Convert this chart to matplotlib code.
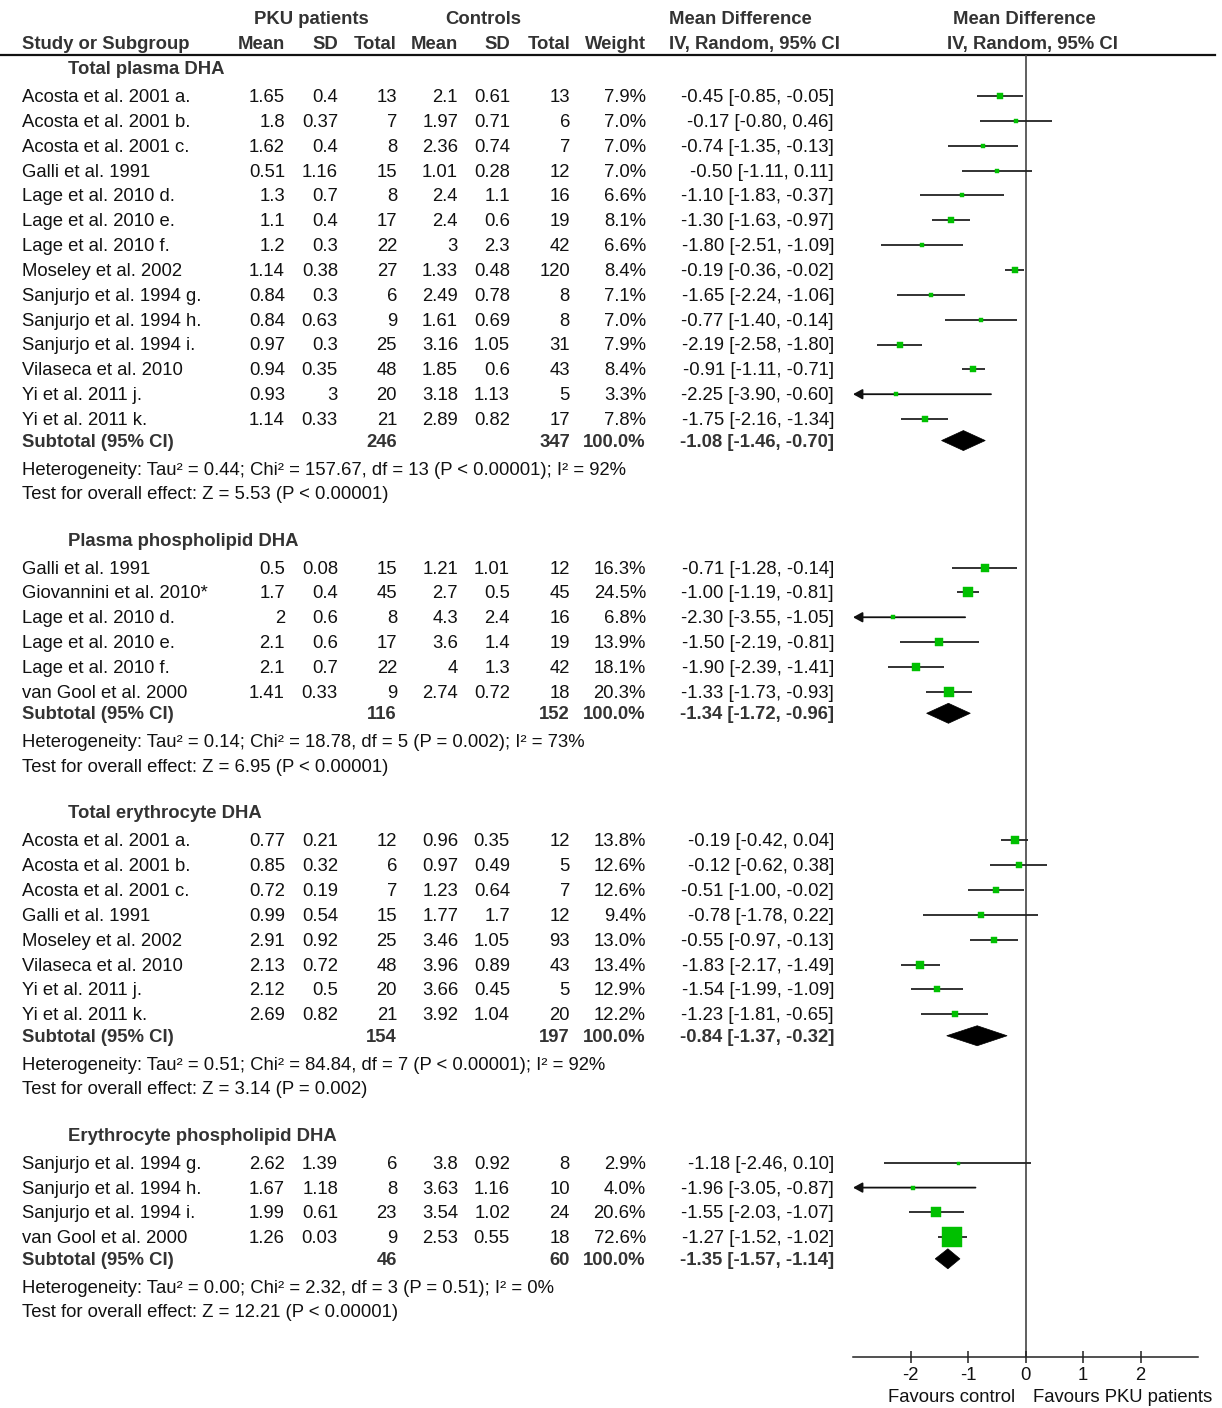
import matplotlib
matplotlib.use("Agg")
import matplotlib.pyplot as plt
from matplotlib.patches import Polygon

plt.rcParams['font.family'] = ['Liberation Sans', 'DejaVu Sans']
plt.rcParams['axes.unicode_minus'] = False

# ---------------- data ----------------
group_titles = ["Total plasma DHA", "Plasma phospholipid DHA",
                "Total erythrocyte DHA", "Erythrocyte phospholipid DHA"]

studies1 = ["Acosta et al. 2001 a.", "Acosta et al. 2001 b.", "Acosta et al. 2001 c.", "Galli et al. 1991",
            "Lage et al. 2010 d.", "Lage et al. 2010 e.", "Lage et al. 2010 f.", "Moseley et al. 2002",
            "Sanjurjo et al. 1994 g.", "Sanjurjo et al. 1994 h.", "Sanjurjo et al. 1994 i.",
            "Vilaseca et al. 2010", "Yi et al. 2011 j.", "Yi et al. 2011 k."]
pku_mean1 = [1.65, 1.8, 1.62, 0.51, 1.3, 1.1, 1.2, 1.14, 0.84, 0.84, 0.97, 0.94, 0.93, 1.14]
pku_sd1 = [0.4, 0.37, 0.4, 1.16, 0.7, 0.4, 0.3, 0.38, 0.3, 0.63, 0.3, 0.35, 3, 0.33]
pku_n1 = [13, 7, 8, 15, 8, 17, 22, 27, 6, 9, 25, 48, 20, 21]
ctl_mean1 = [2.1, 1.97, 2.36, 1.01, 2.4, 2.4, 3, 1.33, 2.49, 1.61, 3.16, 1.85, 3.18, 2.89]
ctl_sd1 = [0.61, 0.71, 0.74, 0.28, 1.1, 0.6, 2.3, 0.48, 0.78, 0.69, 1.05, 0.6, 1.13, 0.82]
ctl_n1 = [13, 6, 7, 12, 16, 19, 42, 120, 8, 8, 31, 43, 5, 17]
weight1 = [7.9, 7.0, 7.0, 7.0, 6.6, 8.1, 6.6, 8.4, 7.1, 7.0, 7.9, 8.4, 3.3, 7.8]
md1 = [-0.45, -0.17, -0.74, -0.50, -1.10, -1.30, -1.80, -0.19, -1.65, -0.77, -2.19, -0.91, -2.25, -1.75]
lo1 = [-0.85, -0.80, -1.35, -1.11, -1.83, -1.63, -2.51, -0.36, -2.24, -1.40, -2.58, -1.11, -3.90, -2.16]
hi1 = [-0.05, 0.46, -0.13, 0.11, -0.37, -0.97, -1.09, -0.02, -1.06, -0.14, -1.80, -0.71, -0.60, -1.34]
sub1 = dict(n_pku=246, n_ctl=347, md=-1.08, lo=-1.46, hi=-0.70)
het1 = "Heterogeneity: Tau² = 0.44; Chi² = 157.67, df = 13 (P < 0.00001); I² = 92%"
test1 = "Test for overall effect: Z = 5.53 (P < 0.00001)"

studies2 = ["Galli et al. 1991", "Giovannini et al. 2010*", "Lage et al. 2010 d.", "Lage et al. 2010 e.",
            "Lage et al. 2010 f.", "van Gool et al. 2000"]
pku_mean2 = [0.5, 1.7, 2, 2.1, 2.1, 1.41]
pku_sd2 = [0.08, 0.4, 0.6, 0.6, 0.7, 0.33]
pku_n2 = [15, 45, 8, 17, 22, 9]
ctl_mean2 = [1.21, 2.7, 4.3, 3.6, 4, 2.74]
ctl_sd2 = [1.01, 0.5, 2.4, 1.4, 1.3, 0.72]
ctl_n2 = [12, 45, 16, 19, 42, 18]
weight2 = [16.3, 24.5, 6.8, 13.9, 18.1, 20.3]
md2 = [-0.71, -1.00, -2.30, -1.50, -1.90, -1.33]
lo2 = [-1.28, -1.19, -3.55, -2.19, -2.39, -1.73]
hi2 = [-0.14, -0.81, -1.05, -0.81, -1.41, -0.93]
sub2 = dict(n_pku=116, n_ctl=152, md=-1.34, lo=-1.72, hi=-0.96)
het2 = "Heterogeneity: Tau² = 0.14; Chi² = 18.78, df = 5 (P = 0.002); I² = 73%"
test2 = "Test for overall effect: Z = 6.95 (P < 0.00001)"

studies3 = ["Acosta et al. 2001 a.", "Acosta et al. 2001 b.", "Acosta et al. 2001 c.", "Galli et al. 1991",
            "Moseley et al. 2002", "Vilaseca et al. 2010", "Yi et al. 2011 j.", "Yi et al. 2011 k."]
pku_mean3 = [0.77, 0.85, 0.72, 0.99, 2.91, 2.13, 2.12, 2.69]
pku_sd3 = [0.21, 0.32, 0.19, 0.54, 0.92, 0.72, 0.5, 0.82]
pku_n3 = [12, 6, 7, 15, 25, 48, 20, 21]
ctl_mean3 = [0.96, 0.97, 1.23, 1.77, 3.46, 3.96, 3.66, 3.92]
ctl_sd3 = [0.35, 0.49, 0.64, 1.7, 1.05, 0.89, 0.45, 1.04]
ctl_n3 = [12, 5, 7, 12, 93, 43, 5, 20]
weight3 = [13.8, 12.6, 12.6, 9.4, 13.0, 13.4, 12.9, 12.2]
md3 = [-0.19, -0.12, -0.51, -0.78, -0.55, -1.83, -1.54, -1.23]
lo3 = [-0.42, -0.62, -1.00, -1.78, -0.97, -2.17, -1.99, -1.81]
hi3 = [0.04, 0.38, -0.02, 0.22, -0.13, -1.49, -1.09, -0.65]
sub3 = dict(n_pku=154, n_ctl=197, md=-0.84, lo=-1.37, hi=-0.32)
het3 = "Heterogeneity: Tau² = 0.51; Chi² = 84.84, df = 7 (P < 0.00001); I² = 92%"
test3 = "Test for overall effect: Z = 3.14 (P = 0.002)"

studies4 = ["Sanjurjo et al. 1994 g.", "Sanjurjo et al. 1994 h.", "Sanjurjo et al. 1994 i.", "van Gool et al. 2000"]
pku_mean4 = [2.62, 1.67, 1.99, 1.26]
pku_sd4 = [1.39, 1.18, 0.61, 0.03]
pku_n4 = [6, 8, 23, 9]
ctl_mean4 = [3.8, 3.63, 3.54, 2.53]
ctl_sd4 = [0.92, 1.16, 1.02, 0.55]
ctl_n4 = [8, 10, 24, 18]
weight4 = [2.9, 4.0, 20.6, 72.6]
md4 = [-1.18, -1.96, -1.55, -1.27]
lo4 = [-2.46, -3.05, -2.03, -1.52]
hi4 = [0.10, -0.87, -1.07, -1.02]
sub4 = dict(n_pku=46, n_ctl=60, md=-1.35, lo=-1.57, hi=-1.14)
het4 = "Heterogeneity: Tau² = 0.00; Chi² = 2.32, df = 3 (P = 0.51); I² = 0%"
test4 = "Test for overall effect: Z = 12.21 (P < 0.00001)"

x_ticks = [-2, -1, 0, 1, 2]
x_limits = (-3, 3)
label_left = "Favours control"
label_right = "Favours PKU patients"

groups = [
    (group_titles[0], studies1, pku_mean1, pku_sd1, pku_n1, ctl_mean1, ctl_sd1, ctl_n1, weight1, md1, lo1, hi1, sub1, het1, test1),
    (group_titles[1], studies2, pku_mean2, pku_sd2, pku_n2, ctl_mean2, ctl_sd2, ctl_n2, weight2, md2, lo2, hi2, sub2, het2, test2),
    (group_titles[2], studies3, pku_mean3, pku_sd3, pku_n3, ctl_mean3, ctl_sd3, ctl_n3, weight3, md3, lo3, hi3, sub3, het3, test3),
    (group_titles[3], studies4, pku_mean4, pku_sd4, pku_n4, ctl_mean4, ctl_sd4, ctl_n4, weight4, md4, lo4, hi4, sub4, het4, test4),
]

# ---------------- layout ----------------
W, H = 1222, 1408
fig = plt.figure(figsize=(W / 100, H / 100), dpi=100)
ov = fig.add_axes([0, 0, 1, 1])
ov.set_xlim(0, W)
ov.set_ylim(H, 0)
ov.axis('off')

FS = 13.3
TXT = '#111111'
BOLD = '#333333'
GREEN = '#00C000'
TEXT_DY = 1.5

ax_left, ax_right = 853, 1198
ax_top, ax_bottom = 55, 1357
ax = fig.add_axes([ax_left / W, 1 - ax_bottom / H, (ax_right - ax_left) / W, (ax_bottom - ax_top) / H])
ax.set_xlim(*x_limits)
ax.set_ylim(ax_bottom, ax_top)
ax.patch.set_alpha(0)
for s in ['top', 'left', 'right']:
    ax.spines[s].set_visible(False)
ax.spines['bottom'].set_linewidth(1.1)
ax.spines['bottom'].set_color('#222222')
ax.set_yticks([])
ax.set_xticks(x_ticks)
ax.set_xticklabels([str(t) for t in x_ticks], fontsize=FS, color=TXT)
ax.tick_params(axis='x', direction='inout', length=8, width=1.1, color='#222222', pad=3)
ax.axvline(0, color='#444444', lw=1.2, zorder=1)

# column positions (right-aligned, px)
c_pm, c_psd, c_pn, c_cm, c_csd, c_cn, c_w, c_ci = 285, 338, 397, 458, 510, 570, 646, 834

def t(x, y, s, ha='left', bold=False, **kw):
    ov.text(x, y + TEXT_DY, s, ha=ha, va='center', fontsize=FS,
            fontweight='bold' if bold else 'normal', color=BOLD if bold else TXT, **kw)

# headers
t(311, 18, "PKU patients", ha='center', bold=True)
t(483, 18, "Controls", ha='center', bold=True)
t(669, 18, "Mean Difference", bold=True)
t(1024, 18, "Mean Difference", ha='center', bold=True)
t(22, 43, "Study or Subgroup", bold=True)
t(c_pm, 43, "Mean", ha='right', bold=True)
t(c_psd, 43, "SD", ha='right', bold=True)
t(c_pn, 43, "Total", ha='right', bold=True)
t(c_cm, 43, "Mean", ha='right', bold=True)
t(c_csd, 43, "SD", ha='right', bold=True)
t(c_cn, 43, "Total", ha='right', bold=True)
t(c_w, 43, "Weight", ha='right', bold=True)
t(669, 43, "IV, Random, 95% CI", bold=True)
t(1032, 43, "IV, Random, 95% CI", ha='center', bold=True)
ov.plot([0, 1215], [55, 55], color='#111111', lw=1.6)

def sq_size(w):
    return max(3.0, 1.5 * w ** 0.6) * 0.72  # px -> pt

y = 68
for (title, st, pm, psd, pn, cm, csd, cn, wt, md, lo, hi, sub, het, test) in groups:
    t(68, y, title, bold=True)
    y += 28
    for i in range(len(st)):
        t(22, y, st[i])
        t(c_pm, y, f"{pm[i]:g}", ha='right')
        t(c_psd, y, f"{psd[i]:g}", ha='right')
        t(c_pn, y, f"{pn[i]}", ha='right')
        t(c_cm, y, f"{cm[i]:g}", ha='right')
        t(c_csd, y, f"{csd[i]:g}", ha='right')
        t(c_cn, y, f"{cn[i]}", ha='right')
        t(c_w, y, f"{wt[i]:.1f}%", ha='right')
        t(c_ci, y, f"{md[i]:.2f} [{lo[i]:.2f}, {hi[i]:.2f}]", ha='right')
        # forest
        if lo[i] < x_limits[0]:
            ax.annotate('', xy=(x_limits[0], y), xytext=(hi[i], y),
                        arrowprops=dict(arrowstyle='-|>,head_length=0.55,head_width=0.3',
                                        color='#111111', lw=1.3, shrinkA=0, shrinkB=0),
                        annotation_clip=False)
        else:
            ax.plot([lo[i], hi[i]], [y, y], color='#222222', lw=1.3, solid_capstyle='butt', zorder=2)
        ax.plot([md[i]], [y], marker='s', ms=sq_size(wt[i]), mfc=GREEN, mec=GREEN, mew=0.3,
                linestyle='none', zorder=3)
        if i < len(st) - 1:
            y += 24.85
    y += 21.5
    t(22, y, "Subtotal (95% CI)", bold=True)
    t(c_pn, y, f"{sub['n_pku']}", ha='right', bold=True)
    t(c_cn, y, f"{sub['n_ctl']}", ha='right', bold=True)
    t(c_w, y, "100.0%", ha='right', bold=True)
    t(c_ci, y, f"{sub['md']:.2f} [{sub['lo']:.2f}, {sub['hi']:.2f}]", ha='right', bold=True)
    dh = 10
    ax.add_patch(Polygon([(sub['lo'], y), (sub['md'], y - dh), (sub['hi'], y), (sub['md'], y + dh)],
                         closed=True, facecolor='black', edgecolor='black', lw=0.5, zorder=3))
    y += 28
    t(22, y, het)
    y += 24.5
    t(22, y, test)
    y += 46.5

ov.text(952, 1397, label_left, ha='center', va='center', fontsize=FS, color=TXT)
ov.text(1123, 1397, label_right, ha='center', va='center', fontsize=FS, color=TXT)

fig.savefig("out.png", dpi=100)
